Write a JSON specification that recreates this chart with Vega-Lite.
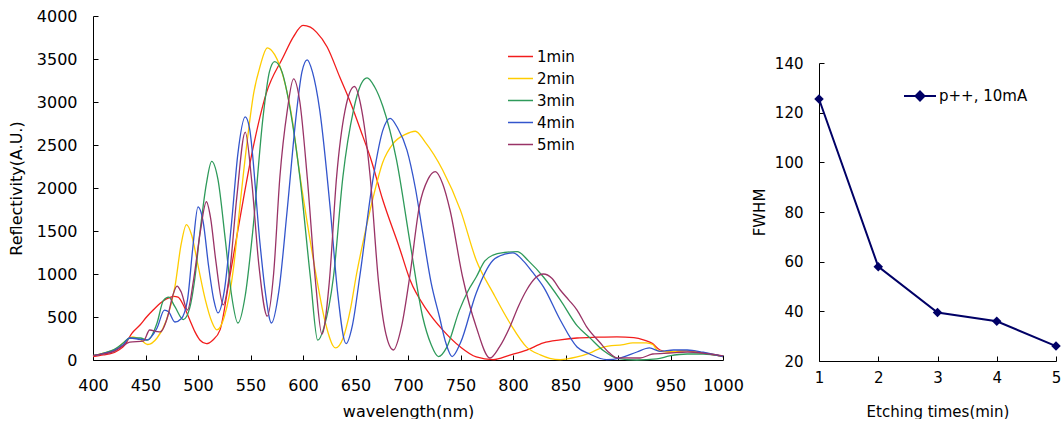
{
  "$schema": "https://vega.github.io/schema/vega-lite/v6.json",
  "padding": {"left": 8, "top": 8, "right": 0, "bottom": 0},
  "background": "white",
  "spacing": 8,
  "config": {
    "view": {"stroke": null},
    "font": "DejaVu Sans",
    "axis": {
      "grid": false,
      "domainColor": "black",
      "domainWidth": 1,
      "tickColor": "black",
      "tickSize": -5,
      "labelColor": "black",
      "titleColor": "black",
      "titleFontWeight": "normal",
      "labelFontSize": 16,
      "titleFontSize": 16,
      "labelFlush": false,
      "labelOverlap": false
    },
    "legend": {"labelColor": "black", "labelFont": "DejaVu Sans"}
  },
  "resolve": {"scale": {"color": "independent"}, "legend": {"color": "independent"}},
  "datasets": {
    "spectra": [
      {"wl":400,"r":40,"s":"1min"},{"wl":410,"r":60,"s":"1min"},{"wl":416,"r":70,"s":"1min"},{"wl":425,"r":120,"s":"1min"},{"wl":430,"r":170,"s":"1min"},{"wl":437,"r":310,"s":"1min"},{"wl":445,"r":410,"s":"1min"},{"wl":451,"r":500,"s":"1min"},{"wl":458,"r":590,"s":"1min"},{"wl":464,"r":660,"s":"1min"},{"wl":470,"r":710,"s":"1min"},{"wl":477,"r":740,"s":"1min"},{"wl":481,"r":730,"s":"1min"},{"wl":486,"r":640,"s":"1min"},{"wl":492,"r":470,"s":"1min"},{"wl":497,"r":330,"s":"1min"},{"wl":502,"r":230,"s":"1min"},{"wl":508,"r":190,"s":"1min"},{"wl":514,"r":230,"s":"1min"},{"wl":521,"r":350,"s":"1min"},{"wl":530,"r":950,"s":"1min"},{"wl":540,"r":1650,"s":"1min"},{"wl":552,"r":2440,"s":"1min"},{"wl":565,"r":3100,"s":"1min"},{"wl":581,"r":3520,"s":"1min"},{"wl":591,"r":3760,"s":"1min"},{"wl":600,"r":3890,"s":"1min"},{"wl":607,"r":3870,"s":"1min"},{"wl":613,"r":3810,"s":"1min"},{"wl":623,"r":3640,"s":"1min"},{"wl":635,"r":3290,"s":"1min"},{"wl":645,"r":3000,"s":"1min"},{"wl":657,"r":2600,"s":"1min"},{"wl":664,"r":2360,"s":"1min"},{"wl":676,"r":1860,"s":"1min"},{"wl":692,"r":1300,"s":"1min"},{"wl":702,"r":930,"s":"1min"},{"wl":718,"r":580,"s":"1min"},{"wl":733,"r":350,"s":"1min"},{"wl":750,"r":150,"s":"1min"},{"wl":765,"r":35,"s":"1min"},{"wl":781,"r":5,"s":"1min"},{"wl":797,"r":58,"s":"1min"},{"wl":813,"r":116,"s":"1min"},{"wl":829,"r":198,"s":"1min"},{"wl":845,"r":233,"s":"1min"},{"wl":861,"r":256,"s":"1min"},{"wl":880,"r":265,"s":"1min"},{"wl":899,"r":270,"s":"1min"},{"wl":915,"r":260,"s":"1min"},{"wl":925,"r":230,"s":"1min"},{"wl":933,"r":190,"s":"1min"},{"wl":940,"r":116,"s":"1min"},{"wl":949,"r":93,"s":"1min"},{"wl":965,"r":110,"s":"1min"},{"wl":981,"r":80,"s":"1min"},{"wl":1000,"r":40,"s":"1min"},

      {"wl":400,"r":50,"s":"2min"},{"wl":410,"r":80,"s":"2min"},{"wl":423,"r":140,"s":"2min"},{"wl":429,"r":200,"s":"2min"},{"wl":438,"r":270,"s":"2min"},{"wl":445,"r":240,"s":"2min"},{"wl":452,"r":180,"s":"2min"},{"wl":461,"r":256,"s":"2min"},{"wl":470,"r":465,"s":"2min"},{"wl":478,"r":850,"s":"2min"},{"wl":484,"r":1350,"s":"2min"},{"wl":489,"r":1575,"s":"2min"},{"wl":494,"r":1450,"s":"2min"},{"wl":500,"r":1100,"s":"2min"},{"wl":507,"r":700,"s":"2min"},{"wl":513,"r":450,"s":"2min"},{"wl":518,"r":350,"s":"2min"},{"wl":525,"r":500,"s":"2min"},{"wl":534,"r":1085,"s":"2min"},{"wl":540,"r":1800,"s":"2min"},{"wl":547,"r":2560,"s":"2min"},{"wl":553,"r":3100,"s":"2min"},{"wl":559,"r":3410,"s":"2min"},{"wl":566,"r":3630,"s":"2min"},{"wl":573,"r":3550,"s":"2min"},{"wl":581,"r":3300,"s":"2min"},{"wl":589,"r":2850,"s":"2min"},{"wl":597,"r":2150,"s":"2min"},{"wl":606,"r":1450,"s":"2min"},{"wl":613,"r":950,"s":"2min"},{"wl":621,"r":450,"s":"2min"},{"wl":631,"r":140,"s":"2min"},{"wl":638,"r":250,"s":"2min"},{"wl":645,"r":580,"s":"2min"},{"wl":651,"r":1000,"s":"2min"},{"wl":657,"r":1360,"s":"2min"},{"wl":667,"r":1900,"s":"2min"},{"wl":676,"r":2300,"s":"2min"},{"wl":686,"r":2520,"s":"2min"},{"wl":697,"r":2620,"s":"2min"},{"wl":707,"r":2660,"s":"2min"},{"wl":716,"r":2540,"s":"2min"},{"wl":733,"r":2210,"s":"2min"},{"wl":750,"r":1740,"s":"2min"},{"wl":765,"r":1160,"s":"2min"},{"wl":781,"r":780,"s":"2min"},{"wl":797,"r":430,"s":"2min"},{"wl":813,"r":150,"s":"2min"},{"wl":826,"r":60,"s":"2min"},{"wl":835,"r":20,"s":"2min"},{"wl":845,"r":5,"s":"2min"},{"wl":861,"r":35,"s":"2min"},{"wl":873,"r":80,"s":"2min"},{"wl":886,"r":150,"s":"2min"},{"wl":905,"r":180,"s":"2min"},{"wl":914,"r":200,"s":"2min"},{"wl":927,"r":200,"s":"2min"},{"wl":933,"r":180,"s":"2min"},{"wl":938,"r":110,"s":"2min"},{"wl":949,"r":95,"s":"2min"},{"wl":965,"r":110,"s":"2min"},{"wl":981,"r":85,"s":"2min"},{"wl":1000,"r":40,"s":"2min"},

      {"wl":400,"r":50,"s":"3min"},{"wl":410,"r":80,"s":"3min"},{"wl":420,"r":120,"s":"3min"},{"wl":429,"r":200,"s":"3min"},{"wl":435,"r":256,"s":"3min"},{"wl":445,"r":256,"s":"3min"},{"wl":452,"r":230,"s":"3min"},{"wl":461,"r":430,"s":"3min"},{"wl":467,"r":690,"s":"3min"},{"wl":472,"r":730,"s":"3min"},{"wl":478,"r":620,"s":"3min"},{"wl":486,"r":470,"s":"3min"},{"wl":492,"r":600,"s":"3min"},{"wl":497,"r":950,"s":"3min"},{"wl":502,"r":1500,"s":"3min"},{"wl":508,"r":2050,"s":"3min"},{"wl":513,"r":2310,"s":"3min"},{"wl":519,"r":2100,"s":"3min"},{"wl":526,"r":1400,"s":"3min"},{"wl":532,"r":750,"s":"3min"},{"wl":538,"r":430,"s":"3min"},{"wl":545,"r":750,"s":"3min"},{"wl":552,"r":1480,"s":"3min"},{"wl":562,"r":2830,"s":"3min"},{"wl":568,"r":3350,"s":"3min"},{"wl":573,"r":3470,"s":"3min"},{"wl":580,"r":3350,"s":"3min"},{"wl":588,"r":2900,"s":"3min"},{"wl":597,"r":2130,"s":"3min"},{"wl":607,"r":965,"s":"3min"},{"wl":614,"r":230,"s":"3min"},{"wl":620,"r":380,"s":"3min"},{"wl":629,"r":965,"s":"3min"},{"wl":638,"r":2130,"s":"3min"},{"wl":648,"r":2900,"s":"3min"},{"wl":655,"r":3200,"s":"3min"},{"wl":661,"r":3280,"s":"3min"},{"wl":668,"r":3180,"s":"3min"},{"wl":676,"r":2950,"s":"3min"},{"wl":689,"r":2330,"s":"3min"},{"wl":702,"r":1360,"s":"3min"},{"wl":714,"r":500,"s":"3min"},{"wl":722,"r":180,"s":"3min"},{"wl":729,"r":40,"s":"3min"},{"wl":737,"r":150,"s":"3min"},{"wl":749,"r":580,"s":"3min"},{"wl":757,"r":800,"s":"3min"},{"wl":765,"r":965,"s":"3min"},{"wl":773,"r":1150,"s":"3min"},{"wl":781,"r":1220,"s":"3min"},{"wl":792,"r":1250,"s":"3min"},{"wl":804,"r":1260,"s":"3min"},{"wl":815,"r":1150,"s":"3min"},{"wl":829,"r":965,"s":"3min"},{"wl":845,"r":700,"s":"3min"},{"wl":861,"r":400,"s":"3min"},{"wl":873,"r":260,"s":"3min"},{"wl":886,"r":110,"s":"3min"},{"wl":899,"r":20,"s":"3min"},{"wl":918,"r":0,"s":"3min"},{"wl":937,"r":12,"s":"3min"},{"wl":949,"r":47,"s":"3min"},{"wl":966,"r":70,"s":"3min"},{"wl":981,"r":70,"s":"3min"},{"wl":1000,"r":45,"s":"3min"},

      {"wl":400,"r":50,"s":"4min"},{"wl":410,"r":75,"s":"4min"},{"wl":420,"r":110,"s":"4min"},{"wl":429,"r":180,"s":"4min"},{"wl":435,"r":256,"s":"4min"},{"wl":445,"r":240,"s":"4min"},{"wl":451,"r":233,"s":"4min"},{"wl":461,"r":372,"s":"4min"},{"wl":468,"r":580,"s":"4min"},{"wl":472,"r":560,"s":"4min"},{"wl":478,"r":442,"s":"4min"},{"wl":484,"r":480,"s":"4min"},{"wl":490,"r":700,"s":"4min"},{"wl":495,"r":1300,"s":"4min"},{"wl":500,"r":1780,"s":"4min"},{"wl":505,"r":1600,"s":"4min"},{"wl":510,"r":1100,"s":"4min"},{"wl":515,"r":700,"s":"4min"},{"wl":519,"r":547,"s":"4min"},{"wl":525,"r":800,"s":"4min"},{"wl":532,"r":1600,"s":"4min"},{"wl":538,"r":2400,"s":"4min"},{"wl":545,"r":2826,"s":"4min"},{"wl":549,"r":2700,"s":"4min"},{"wl":559,"r":1360,"s":"4min"},{"wl":564,"r":800,"s":"4min"},{"wl":570,"r":430,"s":"4min"},{"wl":577,"r":800,"s":"4min"},{"wl":585,"r":1750,"s":"4min"},{"wl":594,"r":2900,"s":"4min"},{"wl":599,"r":3350,"s":"4min"},{"wl":604,"r":3490,"s":"4min"},{"wl":609,"r":3350,"s":"4min"},{"wl":616,"r":2900,"s":"4min"},{"wl":626,"r":1750,"s":"4min"},{"wl":633,"r":780,"s":"4min"},{"wl":641,"r":190,"s":"4min"},{"wl":647,"r":400,"s":"4min"},{"wl":654,"r":965,"s":"4min"},{"wl":667,"r":2130,"s":"4min"},{"wl":676,"r":2670,"s":"4min"},{"wl":683,"r":2810,"s":"4min"},{"wl":690,"r":2700,"s":"4min"},{"wl":699,"r":2440,"s":"4min"},{"wl":707,"r":2000,"s":"4min"},{"wl":714,"r":1480,"s":"4min"},{"wl":722,"r":900,"s":"4min"},{"wl":730,"r":500,"s":"4min"},{"wl":736,"r":200,"s":"4min"},{"wl":742,"r":40,"s":"4min"},{"wl":750,"r":200,"s":"4min"},{"wl":765,"r":780,"s":"4min"},{"wl":781,"r":1160,"s":"4min"},{"wl":792,"r":1230,"s":"4min"},{"wl":800,"r":1245,"s":"4min"},{"wl":810,"r":1150,"s":"4min"},{"wl":818,"r":1030,"s":"4min"},{"wl":829,"r":850,"s":"4min"},{"wl":845,"r":465,"s":"4min"},{"wl":861,"r":151,"s":"4min"},{"wl":873,"r":70,"s":"4min"},{"wl":889,"r":5,"s":"4min"},{"wl":902,"r":23,"s":"4min"},{"wl":918,"r":93,"s":"4min"},{"wl":930,"r":140,"s":"4min"},{"wl":940,"r":100,"s":"4min"},{"wl":953,"r":116,"s":"4min"},{"wl":966,"r":116,"s":"4min"},{"wl":981,"r":90,"s":"4min"},{"wl":1000,"r":40,"s":"4min"},

      {"wl":400,"r":50,"s":"5min"},{"wl":410,"r":70,"s":"5min"},{"wl":420,"r":100,"s":"5min"},{"wl":428,"r":160,"s":"5min"},{"wl":435,"r":209,"s":"5min"},{"wl":448,"r":220,"s":"5min"},{"wl":454,"r":349,"s":"5min"},{"wl":461,"r":330,"s":"5min"},{"wl":464,"r":326,"s":"5min"},{"wl":471,"r":500,"s":"5min"},{"wl":476,"r":750,"s":"5min"},{"wl":480,"r":860,"s":"5min"},{"wl":484,"r":790,"s":"5min"},{"wl":490,"r":580,"s":"5min"},{"wl":496,"r":950,"s":"5min"},{"wl":502,"r":1476,"s":"5min"},{"wl":508,"r":1840,"s":"5min"},{"wl":512,"r":1650,"s":"5min"},{"wl":517,"r":1150,"s":"5min"},{"wl":524,"r":640,"s":"5min"},{"wl":530,"r":1000,"s":"5min"},{"wl":537,"r":1900,"s":"5min"},{"wl":545,"r":2650,"s":"5min"},{"wl":551,"r":2100,"s":"5min"},{"wl":558,"r":1100,"s":"5min"},{"wl":566,"r":510,"s":"5min"},{"wl":572,"r":1000,"s":"5min"},{"wl":578,"r":2130,"s":"5min"},{"wl":585,"r":2900,"s":"5min"},{"wl":591,"r":3270,"s":"5min"},{"wl":597,"r":3000,"s":"5min"},{"wl":604,"r":2130,"s":"5min"},{"wl":612,"r":900,"s":"5min"},{"wl":618,"r":300,"s":"5min"},{"wl":625,"r":900,"s":"5min"},{"wl":632,"r":2130,"s":"5min"},{"wl":640,"r":2900,"s":"5min"},{"wl":649,"r":3180,"s":"5min"},{"wl":656,"r":2900,"s":"5min"},{"wl":664,"r":2130,"s":"5min"},{"wl":672,"r":900,"s":"5min"},{"wl":679,"r":300,"s":"5min"},{"wl":686,"r":116,"s":"5min"},{"wl":694,"r":400,"s":"5min"},{"wl":702,"r":1000,"s":"5min"},{"wl":711,"r":1800,"s":"5min"},{"wl":719,"r":2100,"s":"5min"},{"wl":726,"r":2190,"s":"5min"},{"wl":733,"r":2050,"s":"5min"},{"wl":740,"r":1744,"s":"5min"},{"wl":752,"r":965,"s":"5min"},{"wl":765,"r":384,"s":"5min"},{"wl":778,"r":23,"s":"5min"},{"wl":787,"r":150,"s":"5min"},{"wl":797,"r":384,"s":"5min"},{"wl":805,"r":620,"s":"5min"},{"wl":813,"r":814,"s":"5min"},{"wl":821,"r":950,"s":"5min"},{"wl":829,"r":1000,"s":"5min"},{"wl":837,"r":950,"s":"5min"},{"wl":845,"r":814,"s":"5min"},{"wl":853,"r":700,"s":"5min"},{"wl":861,"r":581,"s":"5min"},{"wl":870,"r":388,"s":"5min"},{"wl":883,"r":200,"s":"5min"},{"wl":892,"r":80,"s":"5min"},{"wl":899,"r":25,"s":"5min"},{"wl":921,"r":23,"s":"5min"},{"wl":933,"r":70,"s":"5min"},{"wl":949,"r":81,"s":"5min"},{"wl":966,"r":93,"s":"5min"},{"wl":981,"r":80,"s":"5min"},{"wl":1000,"r":47,"s":"5min"}
    ],
    "fwhm": [
      {"t":1,"f":125.5,"lab":"p++, 10mA"},
      {"t":2,"f":58,"lab":"p++, 10mA"},
      {"t":3,"f":39.5,"lab":"p++, 10mA"},
      {"t":4,"f":36,"lab":"p++, 10mA"},
      {"t":5,"f":26,"lab":"p++, 10mA"}
    ],
    "empty": []
  },
  "hconcat": [
    {
      "width": 630,
      "height": 344,
      "data": {"name": "spectra"},
      "mark": {"type": "line", "interpolate": "monotone", "strokeWidth": 1.3},
      "encoding": {
        "x": {"field": "wl", "type": "quantitative", "scale": {"domain": [400, 1000], "nice": false},
              "axis": {"title": "wavelength(nm)", "values": [400,450,500,550,600,650,700,750,800,850,900,950,1000], "format": "d", "labelPadding": 22, "titlePadding": 10}},
        "y": {"field": "r", "type": "quantitative", "scale": {"domain": [0, 4000], "nice": false},
              "axis": {"title": "Reflectivity(A.U.)", "values": [0,500,1000,1500,2000,2500,3000,3500,4000], "format": "d", "labelPadding": 21, "titlePadding": 12}},
        "color": {"field": "s", "type": "nominal",
                  "scale": {"domain": ["1min","2min","3min","4min","5min"], "range": ["#f21c1c","#ffcc00","#2e9a5a","#3355cc","#993366"]},
                  "legend": {"title": null, "orient": "none", "legendX": 414, "legendY": 27, "padding": 0,
                             "symbolType": "stroke", "symbolSize": 625, "symbolStrokeWidth": 1.5,
                             "labelFontSize": 15, "labelOffset": 3, "rowPadding": 0}}
      }
    },
    {
      "spacing": 0,
      "vconcat": [
        {
          "width": 237,
          "height": 40,
          "data": {"name": "empty"},
          "mark": {"type": "text"},
          "encoding": {}
        },
        {
          "width": 237,
          "height": 298,
          "data": {"name": "fwhm"},
          "encoding": {
            "x": {"field": "t", "type": "quantitative", "scale": {"domain": [1, 5], "nice": false},
                  "axis": {"title": "Etching times(min)", "values": [1,2,3,4,5], "format": "d", "labelFontSize": 15, "titleFontSize": 15, "labelPadding": 14, "titlePadding": 19}},
            "y": {"field": "f", "type": "quantitative", "scale": {"domain": [20, 140], "nice": false},
                  "axis": {"title": "FWHM", "values": [20,40,60,80,100,120,140], "format": "d", "labelFontSize": 15, "titleFontSize": 15, "labelPadding": 21, "titlePadding": 7}},
            "color": {"field": "lab", "type": "nominal", "scale": {"range": ["#000066"]},
                      "legend": {"title": null, "orient": "none", "legendX": 84, "legendY": 63, "padding": 0,
                                 "symbolType": "M-1,0H1M0,-0.28L0.28,0L0,0.28L-0.28,0Z", "symbolSize": 1024,
                                 "symbolStrokeWidth": 2, "labelFontSize": 15, "labelOffset": 2,
                                 "encode": {"symbols": {"update": {"fill": {"value": "#000066"}, "stroke": {"value": "#000066"}, "opacity": {"value": 1}}}}}}
          },
          "layer": [
            {"mark": {"type": "line", "strokeWidth": 2}},
            {"mark": {"type": "point", "shape": "diamond", "filled": true, "size": 90, "opacity": 1}}
          ]
        }
      ]
    }
  ]
}
